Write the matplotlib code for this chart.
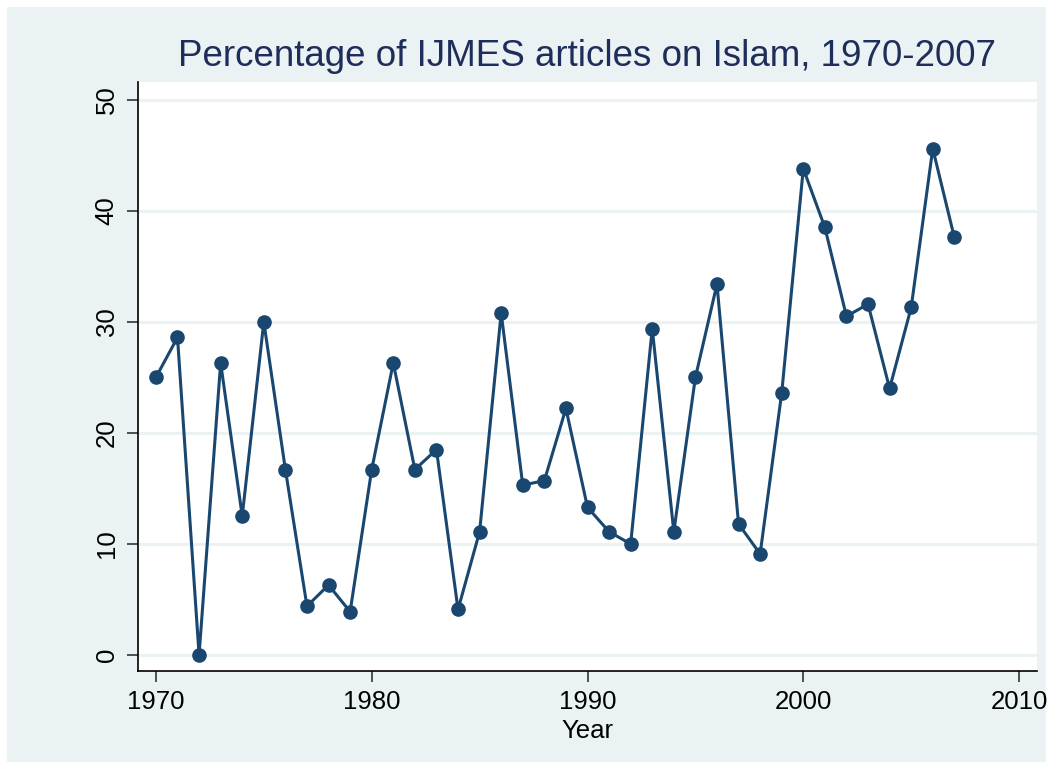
import matplotlib
matplotlib.use("Agg")
import matplotlib.pyplot as plt

years = list(range(1970, 2008))
pct = [25.0, 28.6, 0.0, 26.3, 12.5, 30.0, 16.7, 4.4, 6.3, 3.9,
       16.7, 26.3, 16.7, 18.5, 4.1, 11.1, 30.8, 15.3, 15.7, 22.2,
       13.3, 11.1, 10.0, 29.4, 11.1, 25.0, 33.4, 11.8, 9.1, 23.6,
       43.8, 38.5, 30.5, 31.6, 24.0, 31.3, 45.6, 37.6]
xticks = [1970, 1980, 1990, 2000, 2010]
yticks = [0, 10, 20, 30, 40, 50]

title = "Percentage of IJMES articles on Islam, 1970-2007"
xlabel = "Year"

plt.rcParams['font.family'] = ['Liberation Sans', 'DejaVu Sans']

W, H = 1053, 769
fig = plt.figure(figsize=(W / 100, H / 100), dpi=100)
fig.patch.set_facecolor('white')
bg = '#eaf2f3'
fig.patches.append(matplotlib.patches.Rectangle((7 / W, 7 / H), 1 - 14 / W, 1 - 14 / H,
                                                transform=fig.transFigure, facecolor=bg,
                                                edgecolor='none', zorder=-10))

left, right, top, bottom = 138, 1037, 82, 671
ax = fig.add_axes([left / W, 1 - bottom / H, (right - left) / W, (bottom - top) / H])
ax.set_facecolor('white')

navy = '#1a476f'
ax.plot(years, pct, color=navy, lw=2.2, marker='o', markersize=9.5,
        markerfacecolor=navy, markeredgecolor=navy, zorder=3, clip_on=False)

ax.set_xlim(1969.17, 2010.83)
ax.set_ylim(-1.44, 51.6)
ax.set_xticks(xticks)
ax.set_yticks(yticks)
ax.yaxis.grid(True, color=bg, lw=2.2)
ax.set_axisbelow(True)

for s in ['top', 'right']:
    ax.spines[s].set_visible(False)
for s in ['left', 'bottom']:
    ax.spines[s].set_color('black')
    ax.spines[s].set_linewidth(1.2)

ax.tick_params(axis='both', direction='out', length=8, width=1.2, color='#333333',
               labelsize=18.5, labelcolor='black')
ax.tick_params(axis='y', pad=6)
ax.tick_params(axis='x', pad=6)
for lab in ax.get_yticklabels():
    lab.set_rotation(90)
    lab.set_va('center')

ax.set_xlabel(xlabel, fontsize=18.5, color='black', va='baseline')
ax.xaxis.set_label_coords(0.5, -(738 - bottom) / (bottom - top))
fig.text(0.5 * (left + right) / W + 0.0, 1 - 57 / H, title, ha='center', va='center',
         fontsize=26.5, color='#1e2d5a')

fig.savefig('out.png', dpi=100, facecolor=fig.get_facecolor())
